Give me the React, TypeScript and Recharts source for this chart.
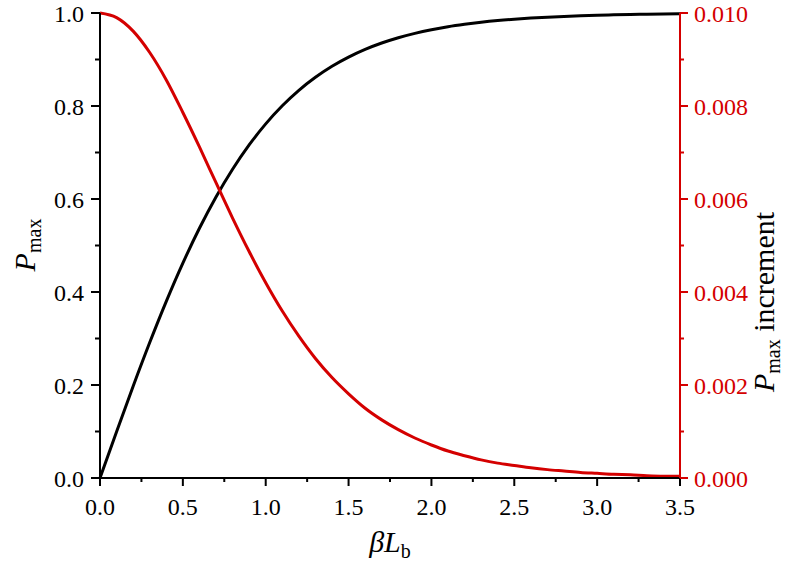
import React from "react";
import { LineChart, Line, XAxis, YAxis } from "recharts";

const betaL = [0, 0.1, 0.2, 0.3, 0.4, 0.5, 0.6, 0.7, 0.8, 0.9, 1.0, 1.1, 1.2, 1.3, 1.4, 1.5, 1.6, 1.7, 1.8, 1.9, 2.0, 2.1, 2.2, 2.3, 2.4, 2.5, 2.6, 2.7, 2.8, 2.9, 3.0, 3.1, 3.2, 3.3, 3.4, 3.5];
const pmax = [0, 0.0997, 0.1974, 0.2913, 0.3799, 0.4621, 0.537, 0.6044, 0.664, 0.7163, 0.7616, 0.8005, 0.8337, 0.8617, 0.8854, 0.9051, 0.9217, 0.9354, 0.9468, 0.9562, 0.964, 0.9705, 0.9757, 0.9801, 0.9837, 0.9866, 0.989, 0.991, 0.9926, 0.994, 0.9951, 0.996, 0.9967, 0.9973, 0.9978, 0.9982];
const increment = [0.01, 0.0099, 0.00961, 0.00915, 0.00856, 0.00786, 0.00712, 0.00635, 0.00559, 0.00487, 0.0042, 0.00359, 0.00305, 0.00257, 0.00216, 0.00181, 0.0015, 0.00125, 0.00104, 0.00086, 0.00071, 0.00058, 0.00048, 0.00039, 0.00032, 0.00027, 0.00022, 0.00018, 0.00015, 0.00012, 0.0001, 0.00008, 0.00007, 0.00005, 0.00004, 0.00004];

const xTicks = [0, 0.25, 0.5, 0.75, 1, 1.25, 1.5, 1.75, 2, 2.25, 2.5, 2.75, 3, 3.25, 3.5];
const xMajor = [0, 0.5, 1, 1.5, 2, 2.5, 3, 3.5];
const leftTicks = [0, 0.1, 0.2, 0.3, 0.4, 0.5, 0.6, 0.7, 0.8, 0.9, 1.0];
const leftMajor = [0, 0.2, 0.4, 0.6, 0.8, 1.0];
const rightTicks = [0, 0.001, 0.002, 0.003, 0.004, 0.005, 0.006, 0.007, 0.008, 0.009, 0.01];
const rightMajor = [0, 0.002, 0.004, 0.006, 0.008, 0.01];

const data = betaL.map((x, i) => ({ x, pmax: pmax[i], inc: increment[i] }));

const FONT = "Liberation Serif";
const RED = "#d40000";
const FS = 24;
const TS = { fontFamily: FONT };
const AW = 2;

const isIn = (arr: number[], v: number) => arr.some((a) => Math.abs(a - v) < 1e-9);

const BottomTick = (props: any) => {
  const { x, y, payload } = props;
  const v = payload.value;
  const major = isIn(xMajor, v);
  return (
    <g>
      <line x1={x} x2={x} y1={y} y2={y + (major ? 8 : 4)} stroke="#000" strokeWidth={AW} />
      {major && (
        <text x={x} y={y + 37} textAnchor="middle" fontSize={FS} style={TS} fill="#000">
          {v.toFixed(1)}
        </text>
      )}
    </g>
  );
};

const TopTick = (props: any) => {
  const { x, y, payload } = props;
  const major = isIn(xMajor, payload.value);
  return <line x1={x} x2={x} y1={y} y2={y + (major ? 8 : 4)} stroke="#000" strokeWidth={AW} />;
};

const LeftTick = (props: any) => {
  const { x, y, payload } = props;
  const v = payload.value;
  const major = isIn(leftMajor, v);
  return (
    <g>
      <line x1={x} x2={x - (major ? 9 : 5)} y1={y} y2={y} stroke="#000" strokeWidth={AW} />
      {major && (
        <text x={x - 16} y={y + 9} textAnchor="end" fontSize={FS} style={TS} fill="#000">
          {v.toFixed(1)}
        </text>
      )}
    </g>
  );
};

const RightTick = (props: any) => {
  const { x, y, payload } = props;
  const v = payload.value;
  const major = isIn(rightMajor, v);
  return (
    <g>
      <line x1={x} x2={x + (major ? 8 : 4)} y1={y} y2={y} stroke={RED} strokeWidth={AW} />
      {major && (
        <text x={x + 14} y={y + 9} textAnchor="start" fontSize={FS} style={TS} fill={RED}>
          {v.toFixed(3)}
        </text>
      )}
    </g>
  );
};

export default function App() {
  return (
    <div style={{ position: "absolute", left: 0, top: 0, width: 800, height: 571, background: "#fff" }}>
      <LineChart width={800} height={571} data={data} margin={{ top: 13, right: 0, bottom: 0, left: 0 }}>
        <XAxis
          xAxisId="b"
          dataKey="x"
          type="number"
          domain={[0, 3.5]}
          ticks={xTicks}
          interval={0}
          height={93}
          tickSize={0}
          tickMargin={0}
          tick={<BottomTick />}
          axisLine={{ stroke: "#000", strokeWidth: AW }}
          tickLine={false}
        />
        <XAxis
          xAxisId="t"
          dataKey="x"
          type="number"
          orientation="top"
          domain={[0, 3.5]}
          ticks={xTicks}
          interval={0}
          height={0}
          tickSize={0}
          tickMargin={0}
          tick={<TopTick />}
          axisLine={{ stroke: "#000", strokeWidth: AW }}
          tickLine={false}
        />
        <YAxis
          yAxisId="l"
          type="number"
          domain={[0, 1]}
          ticks={leftTicks}
          interval={0}
          width={100}
          tickSize={0}
          tickMargin={0}
          tick={<LeftTick />}
          axisLine={{ stroke: "#000", strokeWidth: AW }}
          tickLine={false}
        />
        <YAxis
          yAxisId="r"
          orientation="right"
          type="number"
          domain={[0, 0.01]}
          ticks={rightTicks}
          interval={0}
          width={120}
          tickSize={0}
          tickMargin={0}
          tick={<RightTick />}
          axisLine={{ stroke: RED, strokeWidth: AW }}
          tickLine={false}
        />
        <Line
          xAxisId="b"
          yAxisId="l"
          dataKey="pmax"
          type="monotone"
          stroke="#000"
          strokeWidth={3}
          dot={false}
          isAnimationActive={false}
        />
        <Line
          xAxisId="b"
          yAxisId="r"
          dataKey="inc"
          type="monotone"
          stroke={RED}
          strokeWidth={3}
          dot={false}
          isAnimationActive={false}
        />
      </LineChart>
      <svg width={800} height={571} style={{ position: "absolute", left: 0, top: 0, pointerEvents: "none" }}>
        <text transform="translate(35,245) rotate(-90)" textAnchor="middle" style={TS} fill="#000">
          <tspan fontSize={30} fontStyle="italic">P</tspan>
          <tspan fontSize={20} dy={6}>max</tspan>
        </text>
        <text transform="translate(774,302) rotate(-90)" textAnchor="middle" style={TS} fill="#000">
          <tspan fontSize={30} fontStyle="italic">P</tspan>
          <tspan fontSize={20} dy={6}>max</tspan>
          <tspan fontSize={30} dy={-6}> increment</tspan>
        </text>
        <text x={390} y={552} textAnchor="middle" style={TS} fill="#000">
          <tspan fontSize={30} fontStyle="italic">βL</tspan>
          <tspan fontSize={20} dy={6}>b</tspan>
        </text>
      </svg>
    </div>
  );
}
